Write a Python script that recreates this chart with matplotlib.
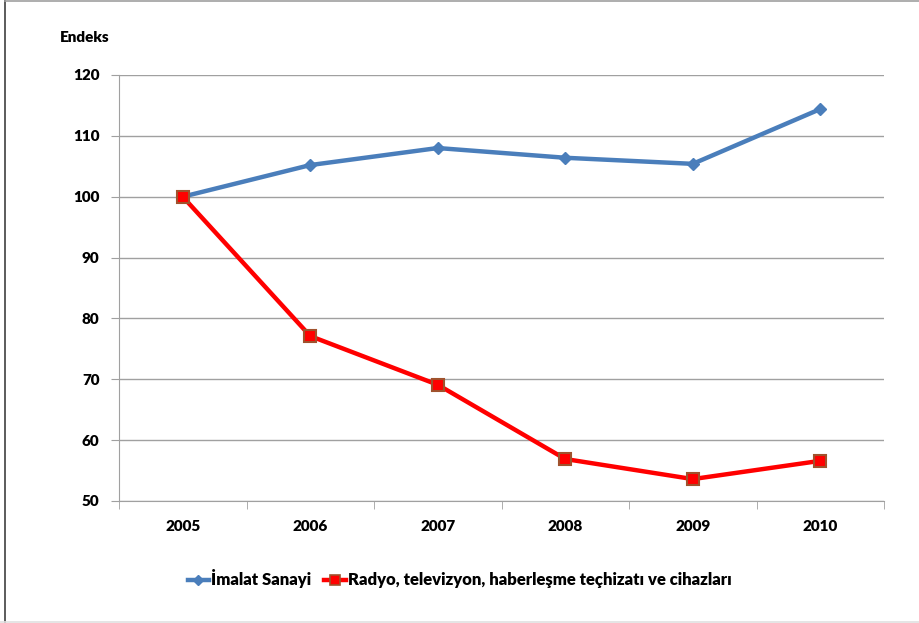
import numpy as np
import matplotlib.pyplot as plt
from matplotlib.lines import Line2D

plt.rcParams['font.family'] = ['Lato', 'DejaVu Sans']
plt.rcParams['font.weight'] = 'bold'

# Data
years = ['2005', '2006', '2007', '2008', '2009', '2010']
imalat = [100.0, 105.2, 108.0, 106.4, 105.4, 114.4]
radyo = [100.0, 77.1, 69.1, 56.9, 53.6, 56.6]
labels = ['İmalat Sanayi', 'Radyo, televizyon, haberleşme teçhizatı ve cihazları']

fig = plt.figure(figsize=(9.19, 6.23), dpi=100)
ax = fig.add_axes([119 / 919, 1 - 501 / 623, (884 - 119) / 919, (501 - 75) / 623])

x = np.arange(len(years))
ax.plot(x, imalat, color='#4a7ebb', lw=3.2, marker='D', ms=6,
        mfc='#4a7ebb', mec='#4a7ebb', zorder=3)
ax.plot(x, radyo, color='#ff0000', lw=3.2, marker='s', ms=8,
        mfc='#ff0000', mec='#a0522d', mew=1.5, zorder=4)

ax.set_xlim(-0.5, 5.5)
ax.set_ylim(50, 120)
ax.set_yticks(np.arange(50, 121, 10))
ax.set_xticks(x)
ax.set_xticklabels(years)
ax.set_xticks(np.arange(-0.5, 5.6, 1), minor=True)
ax.tick_params(axis='x', which='major', length=0, pad=14, labelsize=11)
ax.tick_params(axis='x', which='minor', length=6, color='#a0a0a0', direction='out')
ax.tick_params(axis='y', length=6, color='#a0a0a0', pad=8, labelsize=11)
for t in ax.get_xticklabels() + ax.get_yticklabels():
    t.set_fontweight('heavy')
ax.grid(axis='y', color='#a0a0a0', lw=1)
ax.set_axisbelow(True)
for s in ['top', 'right']:
    ax.spines[s].set_visible(False)
for s in ['left', 'bottom']:
    ax.spines[s].set_color('#a0a0a0')

fig.text(60 / 919, 1 - 37 / 623, 'Endeks', fontsize=11, fontweight='heavy',
         va='center', ha='left')

# Legend
handles = [Line2D([], [], color='#4a7ebb', lw=3.2, marker='D', ms=5),
           Line2D([], [], color='#ff0000', lw=3.2, marker='s', ms=7,
                  mec='#a0522d', mew=1.2)]
leg = fig.legend(handles, labels, loc='center', bbox_to_anchor=(0.5, 1 - 579 / 623),
                 ncol=2, frameon=False, fontsize=12, handlelength=1.3,
                 handletextpad=0.1, columnspacing=0.8)
for t in leg.get_texts():
    t.set_fontweight('heavy')

# outer frame
fig.add_artist(Line2D([5 / 919, 5 / 919], [0, 1], color='#404040', lw=1.2,
                      transform=fig.transFigure))
fig.add_artist(Line2D([5 / 919, 1], [1 - 0.5 / 623, 1 - 0.5 / 623], color='#a0a0a0',
                      lw=1.2, transform=fig.transFigure))
fig.add_artist(Line2D([0, 1], [1 / 623, 1 / 623], color='#e0e0e0',
                      lw=1.2, transform=fig.transFigure))

fig.savefig('out.png', dpi=100)
